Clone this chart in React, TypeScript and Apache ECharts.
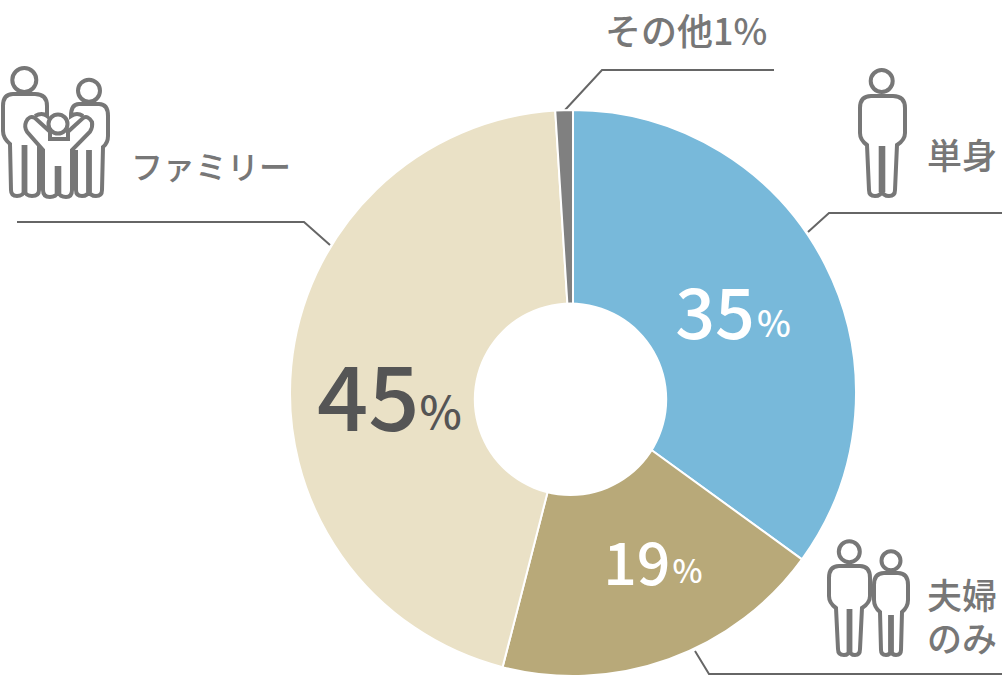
import React, { useEffect, useRef } from "react";
import * as echarts from "echarts";

const categories = ["単身", "夫婦のみ", "ファミリー", "その他"];
const values = [35, 19, 45, 1];
const sliceColors = ["#78b9da", "#b8a979", "#eae1c6", "#808080"];
const FONT = '"Noto Sans CJK JP", "Noto Sans", sans-serif';
const GREY = "#777777";

const labelStyles = [
  { color: "#ffffff", big: 70, small: 36, gap: 2, offset: [-8, 1] },
  { color: "#ffffff", big: 59, small: 32, gap: 2, offset: [16, -11] },
  { color: "#555555", big: 90, small: 45, gap: 0, offset: [4, 17] },
];

const arcHead = (cx: number, cy: number, r: number) =>
  `M${cx - r},${cy}A${r},${r},0,1,1,${cx + r},${cy}A${r},${r},0,1,1,${cx - r},${cy}Z`;

const singleIcon =
  arcHead(881.7, 81, 11) +
  "M871,96H893Q905,96,905,108V133Q905,140,897,145L895,190Q895,196,889,196Q883,196,882,191Q881,196,875,196Q869,196,869,190L867,145Q860,140,860,133V108Q860,96,871,96Z" +
  "M880.7,148H883.3V190H880.7Z";

const coupleIcon =
  arcHead(849.3, 551.7, 10.5) +
  "M839,566H860Q870,566,870,578V596Q870,603,862,608L860,649Q860,655,855,655Q850,655,849.5,650Q849,655,844,655Q838,655,838,649L836,608Q829,603,829,596V578Q829,566,839,566Z" +
  "M848.6,611H850.4V650H848.6Z" +
  arcHead(891, 560.7, 9.5) +
  "M884,573H898Q908,573,908,585V600Q908,607,902,612L901,650Q901,655,896,655Q892,655,891,651Q890,655,886,655Q881,655,881,650L880,612Q874,607,874,600V585Q874,573,884,573Z" +
  "M890.1,617H891.9V651H890.1Z";

const familyIcon =
  arcHead(24.3, 80, 12) +
  "M25,94H13Q3,94,3,106V131Q3,138,10,144L11,190Q11,196,17,196Q23,196,24.5,191Q26,196,32,196Q39,196,39,190V146" +
  "M35,116Q42,112,47,116V106Q47,94,35,94H25" +
  "M23.6,147H25.4V190H23.6Z" +
  arcHead(89, 90.7, 11) +
  "M79,104H99Q108,104,108,116V136Q108,143,103,147L102,190Q102,196,96,196Q90,196,89,191Q88,196,82,196Q76,196,76,190V150" +
  "M83,116Q77,112,71,116Q71,104,79,104" +
  "M88.1,152H89.9V190H88.1Z" +
  arcHead(58, 124, 9.5) +
  "M35,118L50,131.7V139H68V131.7L83,118Q88,115,92,122Q93,127,90,131.7L72,150V190Q72,197,66,197Q60,197,58,192Q56,197,50,197Q43,197,43,190V150L27,131.7Q24,127,26,122Q29,115,35,118Z" +
  "M56.7,168H59.3V192H56.7Z";

echarts.graphic.registerShape("singleIcon", echarts.graphic.extendPath(singleIcon, {}));
echarts.graphic.registerShape("coupleIcon", echarts.graphic.extendPath(coupleIcon, {}));
echarts.graphic.registerShape("familyIcon", echarts.graphic.extendPath(familyIcon, {}));

const iconStyle = { fill: "none", stroke: GREY, lineWidth: 4 };
const lineStyle = { stroke: "#666666", lineWidth: 2, fill: "none" };
const txt = (text: string, x: number, y: number, fontSize: number, lineHeight?: number) => ({
  type: "text",
  x,
  y,
  style: { text, fill: GREY, font: `500 ${fontSize}px ${FONT}`, lineHeight, textAlign: "left", textVerticalAlign: "middle" },
});

export default function App() {
  const ref = useRef<HTMLDivElement>(null);
  useEffect(() => {
    const chart = echarts.init(ref.current!, undefined, { renderer: "svg" });
    chart.setOption({
      animation: false,
      series: [
        {
          type: "pie",
          center: [573, 393],
          radius: [88, 283],
          startAngle: 90,
          clockwise: true,
          silent: true,
          labelLine: { show: false },
          itemStyle: { borderColor: "#ffffff", borderWidth: 2 },
          data: categories.map((name, i) => {
            const s = labelStyles[i];
            return {
              name,
              value: values[i],
              itemStyle: { color: sliceColors[i] },
              label: s
                ? {
                    show: true,
                    position: "inside",
                    offset: s.offset,
                    formatter: `{n|${values[i]}}{p|%}`,
                    rich: {
                      n: { fontFamily: FONT, fontWeight: 500, fontSize: s.big, color: s.color, verticalAlign: "bottom" },
                      p: { fontFamily: FONT, fontWeight: 500, fontSize: s.small, color: s.color, verticalAlign: "bottom", padding: [0, 0, Math.round(s.big * 0.06), s.gap] },
                    },
                  }
                : { show: false },
            };
          }),
        },
      ],
      graphic: [
        { type: "circle", z: 10, shape: { cx: 570.5, cy: 399.3, r: 96.7 }, style: { fill: "#ffffff" } },
        { type: "polyline", shape: { points: [[565, 110], [602, 70], [774, 70]] }, style: lineStyle },
        { type: "polyline", shape: { points: [[808, 232], [829, 213], [1002, 213]] }, style: lineStyle },
        { type: "polyline", shape: { points: [[695, 651], [709, 674], [1002, 674]] }, style: lineStyle },
        { type: "polyline", shape: { points: [[17, 222], [304, 222], [330, 245]] }, style: lineStyle },
        { type: "singleIcon", x: 0, y: 0, style: iconStyle },
        { type: "coupleIcon", x: 0, y: 0, style: iconStyle },
        { type: "familyIcon", x: 0, y: 0, style: iconStyle },
        txt(`${categories[3]}${values[3]}%`, 605, 29, 36),
        txt(categories[0], 927, 153, 35),
        txt("夫婦\nのみ", 927, 614.5, 35, 43),
        txt(categories[2], 131, 165, 32),
      ],
    });
    return () => chart.dispose();
  }, []);
  return <div ref={ref} style={{ position: "absolute", left: 0, top: 0, width: 1002, height: 678 }} />;
}
